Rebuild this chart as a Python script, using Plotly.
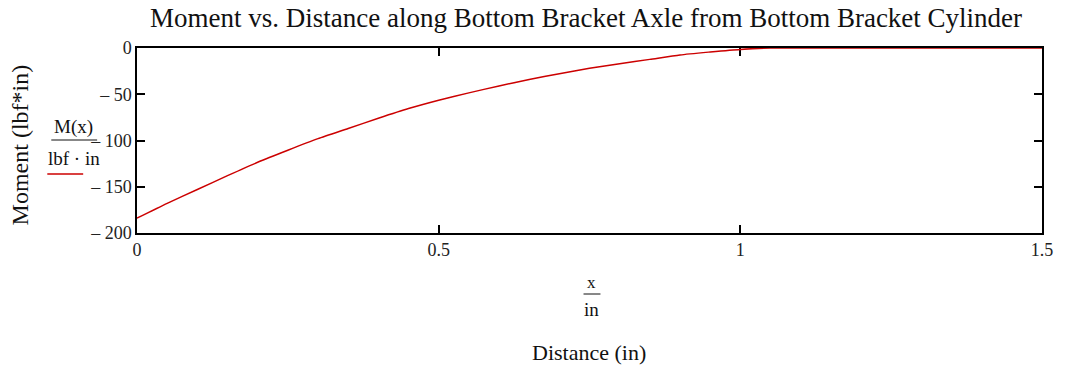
import plotly.graph_objects as go

# Data
distance_in = [0, 0.05, 0.1, 0.15, 0.2, 0.25, 0.3, 0.35, 0.4, 0.45, 0.5, 0.55, 0.6, 0.65,
               0.7, 0.75, 0.8, 0.85, 0.9, 0.95, 1.0, 1.05, 1.1, 1.2, 1.3, 1.4, 1.5]
moment_lbf_in = [-184, -168, -153, -138, -123.5, -110.5, -98, -87, -76, -65.5, -56.5, -48.5,
                 -41, -34, -27.8, -22, -17, -12.3, -7.5, -4.3, -1.5, 0, 0, 0, 0, 0, 0]

x_tick_vals = [0, 0.5, 1, 1.5]
x_tick_text = ["0", "0.5", "1", "1.5"]
y_tick_vals = [0, -50, -100, -150, -200]
y_tick_text = ["0", "\u2013 50", "\u2013 100", "\u2013 150", "\u2013 200"]

W, H = 1065, 368
# plot area in page pixels: left 137, right 1045, top 48, bottom 233
L, T = 137, 48
R = W - 1045
B = H - 233
PW = W - L - R
PH = H - T - B

def px(xp):  # page pixel x -> paper
    return (xp - L) / PW

def py(yp):  # page pixel y -> paper
    return (H - B - yp) / PH

FONT = "Liberation Serif, Times New Roman, serif"
RED = "#cc0000"
TXT = "#111"

fig = go.Figure()
fig.add_trace(go.Scatter(x=distance_in, y=moment_lbf_in, mode="lines",
                         line=dict(color=RED, width=1.5, shape="spline", smoothing=0.6),
                         showlegend=False, hoverinfo="skip", cliponaxis=False))

axis_common = dict(showline=True, linecolor="black", linewidth=1.5, mirror="ticks",
                   ticks="inside", ticklen=8, tickwidth=1.5, tickcolor="black",
                   showgrid=False, zeroline=False, layer="below traces",
                   tickfont=dict(family=FONT, size=18, color="#222"))

fig.update_xaxes(range=[0, 1.5], tickvals=x_tick_vals, ticktext=x_tick_text, **axis_common)
fig.update_yaxes(range=[-200, 0], tickvals=y_tick_vals, ticktext=y_tick_text, **axis_common)

def ann(text, x, y, size, angle=0):
    return dict(text=text, x=px(x), y=py(y), xref="paper", yref="paper", showarrow=False,
                textangle=angle, font=dict(family=FONT, size=size, color=TXT),
                xanchor="center", yanchor="middle")

annotations = [
    ann("Moment vs. Distance along Bottom Bracket Axle from Bottom Bracket Cylinder", 587, 18, 27),
    ann("Moment (lbf*in)", 20, 145, 24, -90),
    ann("M(x)", 73, 127, 19),
    ann("lbf \u00b7 in", 74, 158, 19),
    ann("x", 593, 282, 17),
    ann("in", 593, 309, 19),
    ann("Distance (in)", 590, 352, 22),
]

shapes = [
    dict(type="line", xref="paper", yref="paper", x0=px(51), x1=px(97), y0=py(140), y1=py(140),
         line=dict(color=TXT, width=1)),
    dict(type="line", xref="paper", yref="paper", x0=px(47), x1=px(83), y0=py(174), y1=py(174),
         line=dict(color=RED, width=1.5)),
    dict(type="line", xref="paper", yref="paper", x0=px(585), x1=px(602), y0=py(294), y1=py(294),
         line=dict(color=TXT, width=1)),
]

fig.update_layout(width=W, height=H, margin=dict(l=L, r=R, t=T, b=B),
                  plot_bgcolor="white", paper_bgcolor="white",
                  annotations=annotations, shapes=shapes)

fig.write_html("out.html", config={"displayModeBar": False},
               post_script="document.body.style.margin='0';document.body.style.overflow='hidden';")
